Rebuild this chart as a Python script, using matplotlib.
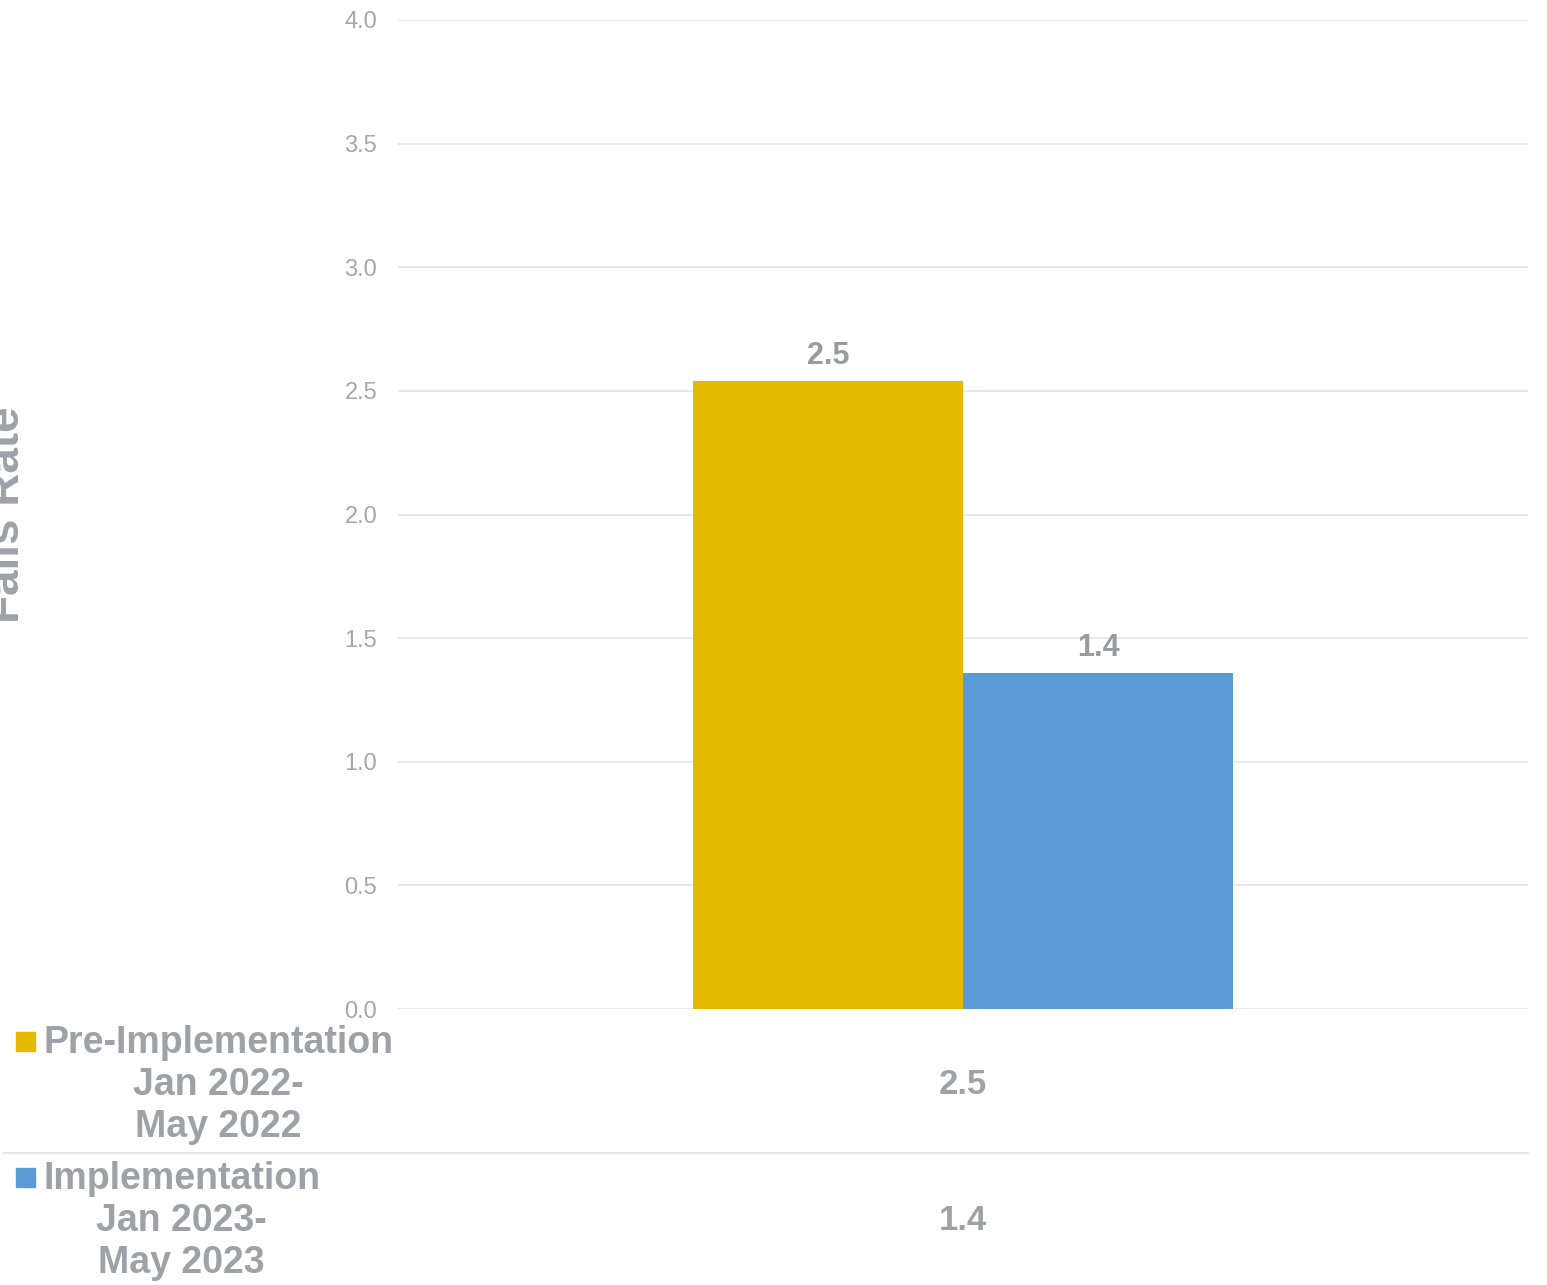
import matplotlib
matplotlib.use("Agg")
import matplotlib.pyplot as plt
from matplotlib.patches import Rectangle
from matplotlib.lines import Line2D

plt.rcParams["font.family"] = ["Liberation Sans", "DejaVu Sans"]

# falls rate per period
periods = ["Pre-Implementation\nJan 2022-\nMay 2022",
           "Implementation\nJan 2023-\nMay 2023"]
rates = [2.54, 1.36]
colors = ["#E5B900", "#5B9BD5"]
yticks = [0.0, 0.5, 1.0, 1.5, 2.0, 2.5, 3.0, 3.5, 4.0]

TXT = "#A0A0A8"
GRID = "#E8E8E8"
W, H = 1547, 1285


def fx(px):
    return px / W


def fy(py):
    return 1 - py / H


fig = plt.figure(figsize=(W / 100, H / 100), dpi=100)
ax = fig.add_axes([fx(398), fy(1009), fx(1528) - fx(398), fy(20) - fy(1009)])

bw = 0.239
offsets = [-bw / 2, bw / 2]
for off, v, c in zip(offsets, rates, colors):
    ax.bar(off, v, width=bw, color=c, zorder=3)
    ax.annotate(f"{v:.1f}", xy=(off, v), xytext=(0, 7), textcoords="offset points",
                ha="center", va="bottom", fontsize=22, fontweight="bold", color="#9A9AA2")

ax.set_xlim(-0.5, 0.5)
ax.set_ylim(0, 4.0)
ax.set_yticks(yticks)
ax.set_yticklabels([f"{t:.1f}" for t in yticks], fontsize=17, color="#A6A6AC")
ax.tick_params(axis="y", length=0, pad=15)
ax.set_xticks([])
ax.grid(axis="y", color=GRID, lw=1.4, zorder=0)
for s in ax.spines.values():
    s.set_visible(False)

fig.text(fx(7), fy(515), "Falls Rate", rotation=90, ha="center", va="center",
         fontsize=33, fontweight="bold", color=TXT)

# data table under the plot
row_centers = [1085, 1221]
key_tops = [1032, 1168]
for lab, v, c, yc, kt in zip(periods, rates, colors, row_centers, key_tops):
    fig.patches.append(Rectangle((fx(16), fy(kt + 19)), fx(35) - fx(16), fy(kt) - fy(kt + 19),
                                 transform=fig.transFigure, color=c))
    fig.text(fx(43), fy(yc), lab, ha="left", va="center", multialignment="center",
             fontsize=27, fontweight="bold", color=TXT, linespacing=1.2)
    fig.text(fx(963), fy(yc), f"{v:.1f}", ha="center", va="center",
             fontsize=25, fontweight="bold", color=TXT)

fig.lines.append(Line2D([fx(4), fx(1528)], [fy(1153), fy(1153)], transform=fig.transFigure,
                        color=GRID, lw=1.4))

fig.savefig("out.png", dpi=100)
